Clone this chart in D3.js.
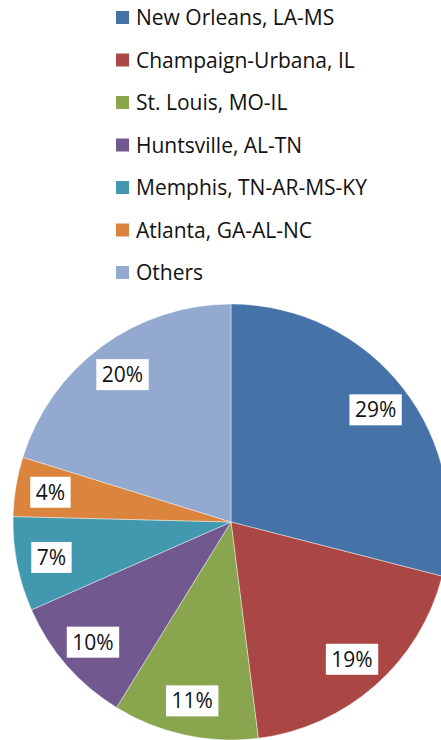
<!DOCTYPE html>
<html><head><meta charset="utf-8">
<script src="https://cdn.jsdelivr.net/npm/d3@7"></script>
<style>html,body{margin:0;padding:0;background:#fff;overflow:hidden}</style>
</head><body>
<svg id="chart" width="441" height="740"></svg>
<script>
const categories = ["New Orleans, LA-MS","Champaign-Urbana, IL","St. Louis, MO-IL","Huntsville, AL-TN","Memphis, TN-AR-MS-KY","Atlanta, GA-AL-NC","Others"];
const values = [29.0, 19.0, 10.8, 9.6, 7.0, 4.4, 20.2];
const labels = ["29%","19%","11%","10%","7%","4%","20%"];
const colors = ["#4572A7","#AA4643","#89A54E","#71588F","#4198AF","#DB843D","#93A9CF"];

const svg = d3.select("#chart");
const font = "'Open Sans', 'Noto Sans', sans-serif";
const cx = 231, cy = 522, R = 218, rLabel = 183;

const data = categories.map((c,i)=>({name:c, value:values[i], label:labels[i], color:colors[i]}));
const pie = d3.pie().sort(null).value(d=>d.value);
const arc = d3.arc().innerRadius(0).outerRadius(R);
const arcL = d3.arc().innerRadius(rLabel).outerRadius(rLabel);
const arcs = pie(data);

const g = svg.append("g").attr("transform",`translate(${cx},${cy})`);
g.selectAll("path").data(arcs).join("path")
  .attr("d",arc).attr("fill",d=>d.data.color)
  .attr("stroke","#ffffff").attr("stroke-width",0.6).attr("stroke-opacity",0.7);

const lg = g.selectAll("g.lab").data(arcs).join("g").attr("class","lab")
  .attr("transform",d=>`translate(${arcL.centroid(d)})`);
lg.each(function(d){
  const s = d3.select(this);
  const t = s.append("text").attr("text-anchor","middle").attr("dy","0.36em")
    .attr("font-family",font).attr("font-size",21).attr("fill","#111").text(d.data.label);
  const w = t.node().getComputedTextLength();
  s.insert("rect","text").attr("x",-w/2-5.5).attr("y",-15.5).attr("width",w+11).attr("height",31).attr("fill","#fff");
});

// legend
const leg = svg.append("g");
const rowY = d3.scalePoint().domain(categories).range([17.5, 17.5+6*42.5]);
const item = leg.selectAll("g").data(data).join("g").attr("transform",d=>`translate(116,${rowY(d.name)})`);
item.append("rect").attr("x",0).attr("y",-6.5).attr("width",13).attr("height",13).attr("fill",d=>d.color);
item.append("text").attr("x",20).attr("dy","0.36em").attr("font-family",font).attr("font-size",21)
  .attr("fill","#111").text(d=>d.name);
</script>
</body></html>
